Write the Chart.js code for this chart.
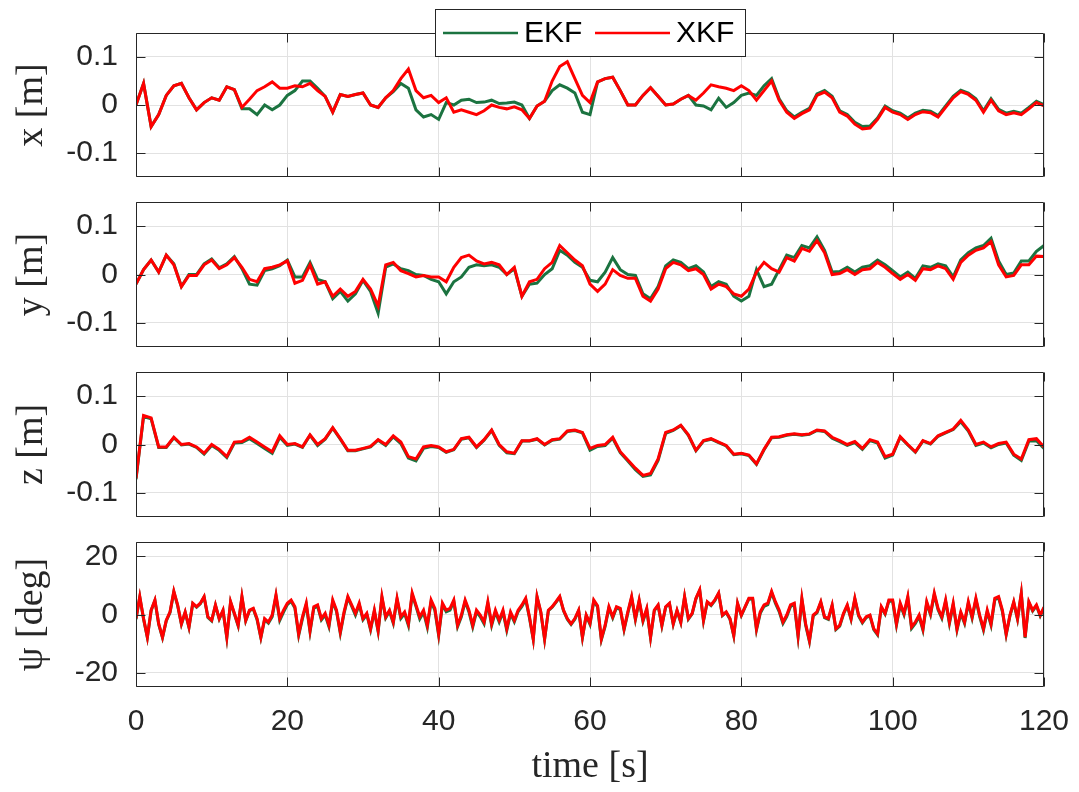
<!DOCTYPE html>
<html>
<head>
<meta charset="utf-8">
<title>EKF vs XKF</title>
<script src="https://cdn.jsdelivr.net/npm/chart.js@4.4.0/dist/chart.umd.min.js"></script>
<style>
  html, body { margin: 0; padding: 0; background: #fff; }
  #wrap { position: relative; width: 1079px; height: 792px; overflow: hidden; }
  #wrap canvas { position: absolute; left: 0; }
</style>
</head>
<body>
<div id="wrap">
  <canvas id="panelX" width="1079" height="190" style="top:0px"></canvas>
  <canvas id="panelY" width="1079" height="170" style="top:190px"></canvas>
  <canvas id="panelZ" width="1079" height="170" style="top:360px"></canvas>
  <canvas id="panelPsi" width="1079" height="262" style="top:530px"></canvas>
</div>
<script>
// ---- data ----
const seriesNames = ['EKF', 'XKF'];
const xTickVals = [0, 20, 40, 60, 80, 100, 120];
const posTickVals = [-0.1, 0, 0.1];
const psiTickVals = [-20, 0, 20];

// sample times: 1 s for position, 0.5 s for heading
const tSec = Array.from({ length: 121 }, (_, i) => i);
const tPsi = Array.from({ length: 241 }, (_, i) => i / 2);

const xXkf = [
  0.000, 0.045, -0.045, -0.020, 0.020, 0.040, 0.045, 0.015, -0.010, 0.005,
  0.015, 0.010, 0.038, 0.032, -0.005, 0.012, 0.030, 0.038, 0.048, 0.035,
  0.035, 0.040, 0.038, 0.045, 0.030, 0.018, -0.015, 0.022, 0.018, 0.022,
  0.025, 0.000, -0.005, 0.015, 0.030, 0.055, 0.075, 0.030, 0.015, 0.020,
  0.005, 0.015, -0.015, -0.010, -0.015, -0.020, -0.012, 0.000, -0.005, -0.008,
  -0.004, -0.010, -0.028, -0.002, 0.008, 0.050, 0.080, 0.090, 0.055, 0.020,
  0.005, 0.048, 0.055, 0.058, 0.030, 0.000, 0.000, 0.020, 0.036, 0.018,
  0.000, 0.002, 0.012, 0.020, 0.010, 0.025, 0.042, 0.038, 0.035, 0.030,
  0.040, 0.030, 0.010, 0.030, 0.050, 0.010, -0.015, -0.028, -0.018, -0.010,
  0.020, 0.027, 0.015, -0.015, -0.023, -0.040, -0.050, -0.048, -0.030, -0.005,
  -0.015, -0.020, -0.030, -0.020, -0.014, -0.016, -0.025, -0.005, 0.015, 0.028,
  0.022, 0.010, -0.015, 0.010, -0.012, -0.020, -0.016, -0.020, -0.008, 0.005,
  -0.002
];
const xEkf = [
  0.000, 0.045, -0.045, -0.020, 0.020, 0.040, 0.045, 0.015, -0.010, 0.005,
  0.015, 0.010, 0.038, 0.032, -0.008, -0.008, -0.020, 0.000, -0.010, 0.000,
  0.020, 0.030, 0.050, 0.050, 0.035, 0.018, -0.015, 0.022, 0.018, 0.022,
  0.025, 0.000, -0.005, 0.015, 0.028, 0.045, 0.035, -0.010, -0.025, -0.020,
  -0.030, 0.005, 0.000, 0.010, 0.012, 0.005, 0.006, 0.010, 0.003, 0.004,
  0.006, 0.000, -0.028, -0.002, 0.008, 0.030, 0.042, 0.035, 0.025, -0.015,
  -0.020, 0.048, 0.055, 0.058, 0.030, 0.000, 0.000, 0.020, 0.036, 0.018,
  0.000, 0.002, 0.012, 0.020, 0.000, -0.002, -0.010, 0.014, -0.005, 0.005,
  0.020, 0.025, 0.020, 0.040, 0.055, 0.013, -0.012, -0.025, -0.015, -0.007,
  0.023, 0.030, 0.018, -0.012, -0.020, -0.036, -0.045, -0.044, -0.027, -0.002,
  -0.012, -0.017, -0.027, -0.017, -0.011, -0.013, -0.022, -0.002, 0.018, 0.031,
  0.025, 0.013, -0.012, 0.013, -0.009, -0.017, -0.013, -0.017, -0.005, 0.008,
  0.001
];

const yXkf = [
  -0.020, 0.010, 0.030, 0.005, 0.040, 0.020, -0.025, -0.002, -0.002, 0.020,
  0.030, 0.012, 0.020, 0.035, 0.015, -0.010, -0.015, 0.012, 0.015, 0.020,
  0.028, -0.018, -0.012, 0.020, -0.020, -0.015, -0.045, -0.030, -0.045, -0.035,
  -0.010, -0.030, -0.065, 0.020, 0.025, 0.008, 0.002, -0.005, -0.002, -0.005,
  -0.005, -0.015, 0.015, 0.035, 0.040, 0.028, 0.022, 0.025, 0.020, 0.000,
  0.015, -0.045, -0.015, -0.010, 0.012, 0.025, 0.060, 0.045, 0.030, 0.018,
  -0.020, -0.035, -0.020, 0.010, -0.002, -0.008, -0.008, -0.045, -0.055, -0.030,
  0.012, 0.025, 0.020, 0.008, 0.012, 0.000, -0.030, -0.020, -0.025, -0.040,
  -0.045, -0.030, 0.005, 0.025, 0.012, 0.005, 0.035, 0.028, 0.054, 0.048,
  0.070, 0.045, 0.000, 0.002, 0.010, 0.000, 0.010, 0.012, 0.025, 0.015,
  0.002, -0.010, 0.000, -0.012, 0.012, 0.010, 0.018, 0.012, -0.010, 0.025,
  0.040, 0.050, 0.055, 0.068, 0.020, -0.005, -0.002, 0.020, 0.020, 0.038,
  0.037
];
const yEkf = [
  -0.020, 0.010, 0.030, 0.005, 0.040, 0.022, -0.025, 0.000, 0.000, 0.022,
  0.032, 0.014, 0.022, 0.037, 0.012, -0.020, -0.022, 0.008, 0.012, 0.018,
  0.030, -0.005, -0.005, 0.025, -0.010, -0.015, -0.050, -0.035, -0.055, -0.040,
  -0.012, -0.035, -0.080, 0.015, 0.022, 0.012, 0.008, 0.000, -0.002, -0.010,
  -0.015, -0.040, -0.015, -0.005, 0.015, 0.020, 0.018, 0.020, 0.015, 0.000,
  0.012, -0.045, -0.020, -0.018, 0.000, 0.012, 0.050, 0.040, 0.025, 0.015,
  -0.012, -0.015, 0.005, 0.035, 0.010, 0.000, -0.002, -0.040, -0.050, -0.025,
  0.018, 0.030, 0.025, 0.012, 0.018, 0.005, -0.025, -0.015, -0.020, -0.045,
  -0.055, -0.045, 0.010, -0.025, -0.020, 0.010, 0.040, 0.035, 0.060, 0.055,
  0.078, 0.050, 0.005, 0.006, 0.015, 0.005, 0.015, 0.018, 0.030, 0.020,
  0.008, -0.005, 0.005, -0.008, 0.018, 0.015, 0.022, 0.018, -0.005, 0.030,
  0.045, 0.055, 0.060, 0.075, 0.028, 0.000, 0.003, 0.028, 0.028, 0.048,
  0.060
];

const zXkf = [
  -0.070, 0.060, 0.055, -0.005, -0.005, 0.015, 0.000, 0.002, -0.005, -0.018,
  0.000, -0.010, -0.025, 0.005, 0.006, 0.015, 0.005, -0.005, -0.015, 0.018,
  0.000, 0.002, -0.005, 0.020, 0.000, 0.012, 0.035, 0.012, -0.012, -0.012,
  -0.008, -0.004, 0.010, 0.000, 0.018, 0.005, -0.025, -0.030, -0.005, -0.002,
  -0.005, -0.015, -0.010, 0.012, 0.015, -0.005, 0.010, 0.030, 0.000, -0.015,
  -0.018, 0.008, 0.008, 0.012, 0.000, 0.010, 0.012, 0.028, 0.030, 0.025,
  -0.008, -0.002, 0.000, 0.015, -0.015, -0.032, -0.049, -0.064, -0.060, -0.030,
  0.025, 0.030, 0.040, 0.020, -0.012, 0.008, 0.012, 0.005, -0.002, -0.020,
  -0.018, -0.022, -0.040, -0.010, 0.015, 0.016, 0.020, 0.022, 0.020, 0.022,
  0.030, 0.028, 0.015, 0.008, 0.000, 0.006, -0.008, 0.010, 0.005, -0.025,
  -0.020, 0.016, 0.000, -0.015, 0.008, 0.002, 0.018, 0.025, 0.032, 0.050,
  0.030, 0.000, 0.005, -0.005, 0.002, 0.005, -0.020, -0.030, 0.010, 0.012,
  -0.005
];
const zEkf = [
  -0.072, 0.058, 0.053, -0.006, -0.006, 0.014, -0.001, 0.001, -0.006, -0.020,
  -0.002, -0.012, -0.027, 0.003, 0.004, 0.012, 0.002, -0.008, -0.018, 0.015,
  -0.002, 0.001, -0.006, 0.019, -0.002, 0.011, 0.034, 0.011, -0.013, -0.013,
  -0.009, -0.005, 0.009, -0.002, 0.016, 0.002, -0.028, -0.034, -0.008, -0.004,
  -0.006, -0.016, -0.011, 0.011, 0.014, -0.006, 0.009, 0.029, -0.002, -0.017,
  -0.019, 0.007, 0.007, 0.011, -0.001, 0.009, 0.011, 0.027, 0.029, 0.024,
  -0.012, -0.004, -0.002, 0.013, -0.017, -0.034, -0.052, -0.066, -0.063, -0.033,
  0.023, 0.029, 0.039, 0.019, -0.013, 0.007, 0.011, 0.004, -0.003, -0.021,
  -0.019, -0.023, -0.041, -0.011, 0.014, 0.015, 0.019, 0.021, 0.019, 0.021,
  0.029, 0.027, 0.013, 0.006, -0.002, 0.004, -0.010, 0.008, 0.003, -0.028,
  -0.022, 0.015, -0.001, -0.016, 0.007, 0.001, 0.017, 0.024, 0.031, 0.047,
  0.028, -0.002, 0.003, -0.007, 0.000, 0.003, -0.022, -0.033, 0.007, 0.008,
  -0.008
];

const psiXkf = [
  -1.4, 6.2, -1.4, -7.8, 1.5, 5.0, -3.2, -7.8, -2.0, 0.9,
  8.0, 3.3, -3.2, 0.9, -4.3, 3.9, 2.7, 3.9, 6.2, -0.8,
  -2.0, 3.3, -1.4, 1.5, -7.8, 4.4, 0.4, -3.7, 6.2, -2.0,
  1.5, 2.1, -1.4, -7.8, -1.4, -2.6, -0.2, 6.8, -1.4, 1.5,
  3.9, 5.0, 2.7, -6.7, -0.8, 3.9, -5.5, 2.7, 3.3, -1.4,
  0.4, -3.7, 5.0, 1.5, -6.0, 0.9, 6.2, 3.3, 0.4, 3.9,
  -1.4, 0.4, -4.9, 1.5, -5.5, 6.2, -0.8, 1.5, -2.6, 5.6,
  -0.8, 0.9, -3.2, 7.4, 3.3, -0.8, 1.5, -3.7, 5.0, 2.1,
  -6.7, 3.9, 1.5, 2.1, 5.0, -3.7, -0.2, 5.0, 1.5, -3.7,
  1.5, -0.2, -2.6, 4.4, -3.2, 1.5, -2.0, 1.5, -4.9, 0.9,
  -2.0, 1.5, 3.3, 5.6, -0.8, -8.4, 6.2, 0.9, -8.4, 1.5,
  2.7, 4.4, 6.2, 1.5, -1.4, -3.2, -1.4, 1.5, -7.8, -0.2,
  -3.0, 5.0, 3.0, -8.4, -3.7, 2.7, -0.8, 2.7, 2.1, -4.9,
  0.9, 6.2, -1.4, 5.0, -2.0, 2.1, -7.8, 1.5, 3.3, -3.7,
  2.7, 3.9, -3.2, 1.5, -2.6, 6.2, -1.4, 0.4, 5.6, 8.5,
  -2.0, 4.4, 3.3, 5.0, 7.4, -0.2, 0.9, -1.4, -7.2, 3.9,
  -0.2, 2.7, 5.6, 5.6, -4.9, 0.9, 3.3, 3.9, 8.0, 4.4,
  1.5, -2.6, -0.2, 3.3, 3.9, -7.2, 5.6, -3.2, -9.0, -0.2,
  0.9, 4.4, -0.8, -1.4, 3.3, -4.9, -3.7, 0.4, 3.3, -1.4,
  5.6, -0.2, -2.6, -0.8, -0.2, -4.9, -6.7, 2.7, 0.4, 5.0,
  5.0, -3.2, 3.9, 0.4, 6.2, -4.3, -2.6, -0.2, -4.9, 4.4,
  0.4, 7.4, 2.1, -0.8, 5.0, -2.6, 3.9, -4.9, 0.9, -2.6,
  4.4, -0.8, 5.6, -0.2, -4.9, 1.5, -3.2, 5.6, 6.2, 1.5,
  -6.7, -0.2, 4.4, -1.4, 7.4, -7.8, 4.4, 1.5, 3.3, -0.2,
  2.5
];
const psiEkf = [
  -1.6, 6.0, -1.6, -7.9, 1.3, 4.8, -3.4, -8.0, -2.2, 0.7,
  7.8, 3.1, -3.4, 0.7, -4.5, 3.7, 2.5, 3.7, 6.0, -1.0,
  -2.2, 3.1, -1.6, 1.3, -8.0, 4.2, 0.2, -3.9, 6.0, -2.2,
  1.3, 1.9, -1.8, -8.0, -1.8, -3.0, -0.8, 6.4, -2.0, 0.8,
  3.4, 4.6, 2.2, -7.2, -1.4, 3.4, -6.0, 2.2, 2.8, -1.9,
  -0.2, -4.2, 4.5, 1.0, -6.5, 0.4, 5.8, 2.9, -0.2, 3.4,
  -1.8, 0.0, -5.3, 1.1, -5.9, 5.8, -1.2, 1.1, -3.0, 5.2,
  -1.4, 0.3, -3.8, 6.9, 2.8, -1.5, 0.8, -4.4, 4.4, 1.4,
  -7.2, 3.4, 0.9, 1.5, 4.5, -4.2, -0.8, 4.5, 0.9, -4.3,
  0.9, -0.8, -3.2, 3.8, -3.8, 0.9, -2.6, 0.9, -5.5, 0.3,
  -2.5, 1.0, 2.8, 5.2, -1.2, -8.6, 6.0, 0.7, -8.6, 1.3,
  2.5, 4.2, 6.0, 1.3, -1.6, -3.4, -1.6, 1.3, -8.0, -0.4,
  -3.4, 4.6, 2.6, -8.7, -4.1, 2.3, -1.2, 2.3, 1.7, -5.3,
  0.5, 5.8, -1.8, 4.6, -2.4, 1.7, -8.0, 1.3, 3.1, -3.9,
  2.5, 3.7, -3.4, 1.3, -2.8, 6.0, -1.6, 0.2, 5.4, 8.3,
  -2.2, 4.2, 3.1, 4.8, 7.2, -0.4, 0.7, -1.6, -7.4, 3.7,
  -0.4, 2.5, 5.4, 5.2, -5.3, 0.4, 2.8, 3.4, 7.6, 3.9,
  1.0, -3.1, -0.7, 2.8, 3.4, -7.7, 5.1, -3.7, -9.3, -0.5,
  0.6, 4.1, -1.1, -1.7, 3.0, -5.2, -4.0, 0.1, 3.0, -1.7,
  5.3, -0.5, -2.9, -1.1, -0.5, -5.2, -7.0, 2.4, 0.1, 4.7,
  4.5, -3.7, 3.4, -0.1, 5.7, -4.8, -3.1, -0.7, -5.4, 3.9,
  -0.1, 6.9, 1.6, -1.3, 4.5, -3.1, 3.4, -5.4, 0.4, -3.1,
  3.9, -1.3, 5.1, -0.7, -5.4, 1.0, -3.7, 5.1, 5.7, 1.0,
  -7.0, -0.5, 4.1, -1.7, 7.1, -8.1, 4.1, 1.2, 3.0, -0.5,
  2.2
];

// ---- styling ----
const INK = '#262626';
const GRID = '#e2e2e2';
const EKF_GREEN = '#1b7340';
const XKF_RED = '#ff0000';
const SANS = '"Liberation Sans", Arial, Helvetica, sans-serif';
const SERIF = '"Liberation Serif", "Times New Roman", serif';
const TICK_LEN = 9;
const LINE_W = 3;

const toPoints = (times, vals) => vals.map((v, i) => ({ x: times[i], y: v }));

// MATLAB-like box with inward ticks on all four sides
const boxPlugin = {
  id: 'matlabBox',
  afterDatasetsDraw(chart) {
    const { ctx, chartArea: a, scales: { x, y } } = chart;
    const L = a.left + 0.5, R = a.right - 0.5, T = a.top + 0.5, B = a.bottom - 0.5;
    ctx.save();
    ctx.strokeStyle = INK;
    ctx.lineWidth = 1;
    ctx.beginPath();
    ctx.rect(L, T, R - L, B - T);
    x.ticks.forEach(t => {
      const p = Math.round(x.getPixelForValue(t.value)) + 0.5;
      ctx.moveTo(p, B); ctx.lineTo(p, B - TICK_LEN);
      ctx.moveTo(p, T); ctx.lineTo(p, T + TICK_LEN);
    });
    y.ticks.forEach(t => {
      const p = Math.round(y.getPixelForValue(t.value)) + 0.5;
      ctx.moveTo(L, p); ctx.lineTo(L + TICK_LEN, p);
      ctx.moveTo(R, p); ctx.lineTo(R - TICK_LEN, p);
    });
    ctx.stroke();
    ctx.restore();
  }
};

// horizontal legend box sitting across the top edge of the first panel
const legendPlugin = {
  id: 'topLegend',
  afterDraw(chart) {
    const { ctx } = chart;
    const box = { x: 435.5, y: 9.5, w: 310, h: 47 };
    const lineStarts = [443, 595];
    const lineLen = 75;
    const midY = 33;
    ctx.save();
    ctx.fillStyle = '#fff';
    ctx.fillRect(box.x, box.y, box.w, box.h);
    ctx.strokeStyle = INK;
    ctx.lineWidth = 1;
    ctx.strokeRect(box.x, box.y, box.w, box.h);
    ctx.font = '30px ' + SANS;
    ctx.textBaseline = 'middle';
    ctx.textAlign = 'left';
    chart.data.datasets.forEach((ds, i) => {
      const x0 = lineStarts[i];
      ctx.strokeStyle = ds.borderColor;
      ctx.lineWidth = 2.5;
      ctx.beginPath();
      ctx.moveTo(x0, midY);
      ctx.lineTo(x0 + lineLen, midY);
      ctx.stroke();
      ctx.fillStyle = '#000';
      ctx.fillText(ds.label, x0 + lineLen + 6, midY + 1);
    });
    ctx.restore();
  }
};

function makePanel(canvasId, cfg) {
  const tickFont = { family: SANS, size: 30 };
  const plugins = [boxPlugin];
  if (cfg.legend) plugins.push(legendPlugin);
  return new Chart(document.getElementById(canvasId), {
    type: 'line',
    data: {
      datasets: [
        // XKF is drawn over EKF, as in the reference
        { label: seriesNames[0], data: toPoints(cfg.time, cfg.ekf), borderColor: EKF_GREEN, borderWidth: LINE_W, order: 2 },
        { label: seriesNames[1], data: toPoints(cfg.time, cfg.xkf), borderColor: XKF_RED, borderWidth: LINE_W, order: 1 },
      ],
    },
    options: {
      responsive: false,
      animation: false,
      events: [],
      elements: { point: { radius: 0 }, line: { tension: 0 } },
      layout: { padding: { top: cfg.padTop, right: 35, left: 0, bottom: 0 } },
      plugins: { legend: { display: false }, tooltip: { enabled: false } },
      scales: {
        x: {
          type: 'linear',
          min: 0,
          max: 120,
          afterBuildTicks: s => { s.ticks = xTickVals.map(v => ({ value: v })); },
          afterFit: s => {
            s.height = cfg.xAxisH;
            s.paddingLeft = 0;
            s.paddingRight = 0;
          },
          grid: { color: GRID, drawTicks: false },
          border: { display: false },
          ticks: { display: cfg.showX, font: tickFont, color: INK, padding: 17, maxRotation: 0 },
          title: { display: cfg.showX, text: 'time [s]', font: { family: SERIF, size: 38 }, color: INK, padding: { top: 0, bottom: 2 } },
        },
        y: {
          min: cfg.yMin,
          max: cfg.yMax,
          afterBuildTicks: s => { s.ticks = cfg.yTicks.map(v => ({ value: v })); },
          afterFit: s => {
            s.width = 136;
            s.paddingTop = 0;
            s.paddingBottom = 0;
          },
          grid: { color: GRID, drawTicks: false },
          border: { display: false },
          ticks: { font: tickFont, color: INK, padding: 18, callback: v => String(v) },
          title: { display: true, text: cfg.yLabel, font: { family: SERIF, size: 38 }, color: INK, padding: { top: 9, bottom: 0 } },
        },
      },
    },
    plugins,
  });
}

makePanel('panelX', { time: tSec, ekf: xEkf, xkf: xXkf, yLabel: 'x [m]', yMin: -0.15, yMax: 0.15, yTicks: posTickVals, padTop: 33, xAxisH: 13, showX: false, legend: true });
makePanel('panelY', { time: tSec, ekf: yEkf, xkf: yXkf, yLabel: 'y [m]', yMin: -0.15, yMax: 0.15, yTicks: posTickVals, padTop: 12, xAxisH: 13, showX: false });
makePanel('panelZ', { time: tSec, ekf: zEkf, xkf: zXkf, yLabel: 'z [m]', yMin: -0.15, yMax: 0.15, yTicks: posTickVals, padTop: 12, xAxisH: 13, showX: false });
makePanel('panelPsi', { time: tPsi, ekf: psiEkf, xkf: psiXkf, yLabel: 'ψ [deg]', yMin: -25, yMax: 25, yTicks: psiTickVals, padTop: 12, xAxisH: 105, showX: true });
</script>
</body>
</html>
